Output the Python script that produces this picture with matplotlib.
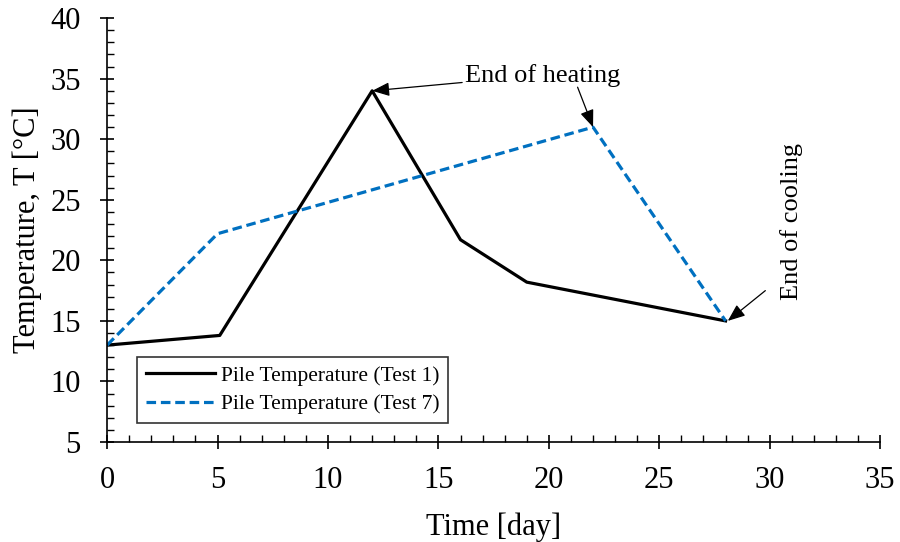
import matplotlib
matplotlib.use("Agg")
import matplotlib.pyplot as plt
from matplotlib.ticker import MultipleLocator

# Data
t1_day = [0, 5.1, 12, 16, 19, 28]
t1_temp = [13, 13.8, 34, 21.7, 18.2, 15]
t7_day = [0, 5.0, 22, 28]
t7_temp = [13, 22.2, 31, 15]

plt.rcParams['font.family'] = ['Liberation Serif', 'DejaVu Serif']

fig = plt.figure(figsize=(9, 5.42), dpi=100)
ax = fig.add_axes([0.119, 0.1845, 0.859, 0.782])

ax.plot(t1_day, t1_temp, color='black', lw=2.3, label='Pile Temperature (Test 1)')
ax.plot(t7_day, t7_temp, color='#0070C0', lw=2.3, ls=(0, (3, 1.5)),
        label='Pile Temperature (Test 7)')

ax.set_xlim(0, 35)
ax.set_ylim(5, 40)
ax.xaxis.set_major_locator(MultipleLocator(5))
ax.xaxis.set_minor_locator(MultipleLocator(1))
ax.yaxis.set_major_locator(MultipleLocator(5))
ax.yaxis.set_minor_locator(MultipleLocator(1))
ax.tick_params(which='major', direction='inout', length=10, width=1.2,
               labelsize=22, pad=12)
ax.tick_params(axis='y', which='major', pad=14)
ax.tick_params(which='minor', direction='in', length=5, width=1.0)
for s in ['top', 'right']:
    ax.spines[s].set_visible(False)
for s in ['left', 'bottom']:
    ax.spines[s].set_linewidth(1.2)

ax.set_xlabel('Time [day]', fontsize=22, labelpad=13)
ax.set_ylabel('Temperature, T [°C]', fontsize=22, labelpad=6)

leg = ax.legend(loc='lower left', bbox_to_anchor=(0.039, 0.045), fontsize=15.5,
                frameon=True, fancybox=False, edgecolor='black',
                handlelength=3.2, handletextpad=0.3, borderpad=0.4,
                labelspacing=0.4, borderaxespad=0)
leg.get_frame().set_linewidth(1.2)

arrow = dict(arrowstyle='-|>,head_length=0.75,head_width=0.3', color='black',
             lw=0.9, shrinkA=0, shrinkB=0, mutation_scale=14)
ax.annotate('End of heating', xy=(12, 34), xytext=(16.2, 35.3),
            fontsize=19, va='center', ha='left', arrowprops=arrow)
ax.annotate('', xy=(22, 31), xytext=(21.3, 34.3), arrowprops=arrow)
ax.annotate('End of cooling', xy=(28.1, 15), xytext=(31.0, 23.2),
            fontsize=19, rotation=90, va='center', ha='center')
ax.annotate('', xy=(28.1, 15), xytext=(29.8, 17.5), arrowprops=arrow)

fig.savefig('out.png', dpi=100)
